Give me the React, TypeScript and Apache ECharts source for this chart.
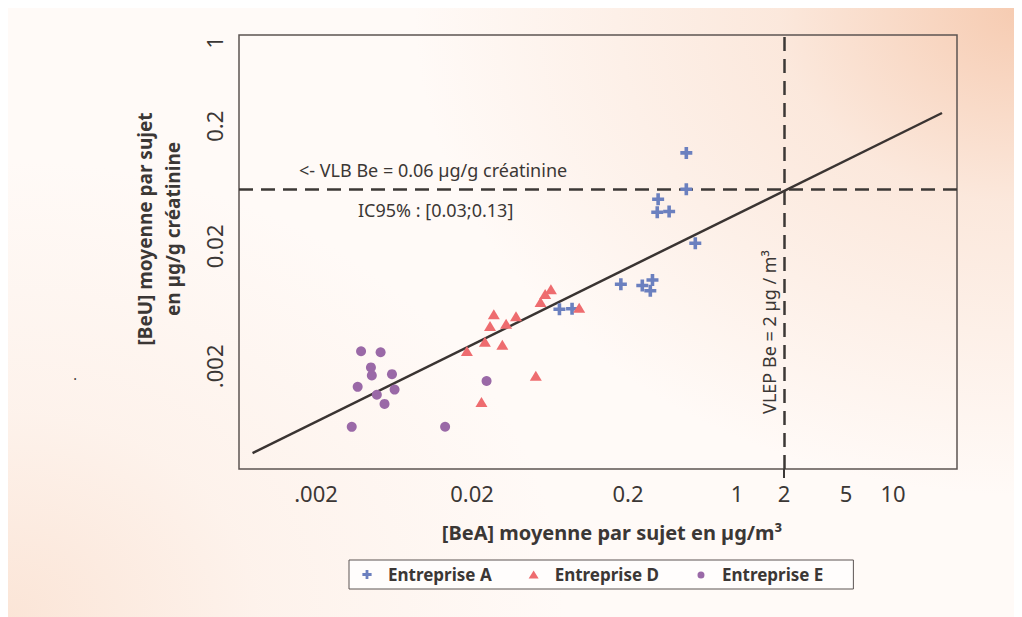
import React, { useEffect, useRef } from 'react';
import * as echarts from 'echarts';

// ---- Tick labels ----
const xTickValues = [0.002, 0.02, 0.2, 1, 2, 5, 10];
const xTickLabels = ['.002', '0.02', '0.2', '1', '2', '5', '10'];
const yTickValues = [0.002, 0.02, 0.2, 1];
const yTickLabels = ['.002', '0.02', '0.2', '1'];

// ---- Series ----
const seriesNames = ['Entreprise A', 'Entreprise D', 'Entreprise E'];

// Entreprise A : [BeA] µg/m³ and [BeU] µg/g créatinine
const aBeA = [0.473, 0.473, 0.312, 0.308, 0.367, 0.54, 0.18, 0.247, 0.287, 0.278, 0.0727, 0.0876];
const aBeU = [0.12, 0.0597, 0.0493, 0.0384, 0.039, 0.0212, 0.00966, 0.00942, 0.01047, 0.00852, 0.00597, 0.00604];

// Entreprise D
const dBeA = [0.0641, 0.0589, 0.055, 0.0973, 0.0276, 0.0383, 0.0261, 0.0331, 0.0242, 0.0313, 0.01855, 0.0513, 0.023];
const dBeU = [0.00876, 0.008, 0.00686, 0.00615, 0.00542, 0.00522, 0.00433, 0.00453, 0.0032, 0.00303, 0.00268, 0.00167, 0.00101];

// Entreprise E
const eBeA = [0.00389, 0.00519, 0.0045, 0.00456, 0.00614, 0.0037, 0.00638, 0.00491, 0.0055, 0.0248, 0.00339, 0.01345];
const eBeU = [0.00267, 0.00262, 0.00196, 0.00168, 0.00172, 0.00135, 0.00128, 0.00116, 0.000973, 0.00151, 0.000626, 0.000627];

// Regression line end points
const fitBeA = [0.000784, 20.6];
const fitBeU = [0.000379, 0.258];

// Limit values
const vlbBeU = 0.06;
const vlepBeA = 2;

const FONT = '"Noto Sans", "Open Sans", sans-serif';
const TEXT = '#3b3735';
const BLUE = '#6b80bf';
const RED = '#ee6c6f';
const PURPLE = '#9a69a7';

const crossSymbol = 'path://M3.5,0H6.5V3.5H10V6.5H6.5V10H3.5V6.5H0V3.5H3.5Z';
const legendCross = 'path://M0,0M12,12M4.6,1.4H7.4V4.6H10.6V7.4H7.4V10.6H4.6V7.4H1.4V4.6H4.6Z';
const legendTri = 'path://M0,0M12,12M6,2L11,10H1Z';
const legendCircle = 'path://M0,0M12,12M2.5,6.5a3.5,3.5 0 1,0 7,0a3.5,3.5 0 1,0 -7,0Z';

function zip(xs: number[], ys: number[]) {
  return xs.map((x, i) => [x, ys[i]]);
}

function fmt(values: number[], labels: string[]) {
  return (v: number) => {
    const i = values.findIndex((t) => Math.abs(t - v) / t < 1e-6);
    return i >= 0 ? labels[i] : '';
  };
}

export default function App() {
  const ref = useRef<HTMLDivElement>(null);

  useEffect(() => {
    document.body.style.overflow = 'hidden';
    document.documentElement.style.overflow = 'hidden';
    if (!ref.current) return;
    const chart = echarts.init(ref.current, undefined, { renderer: 'svg' });

    const option: any = {
      animation: false,
      backgroundColor: 'transparent',
      textStyle: { fontFamily: FONT },
      grid: {
        left: 231,
        top: 27,
        width: 718,
        height: 434,
        show: true,
        borderColor: '#5c5452',
        borderWidth: 1.5,
        backgroundColor: 'transparent',
        outerBoundsMode: 'none',
      },
      xAxis: {
        type: 'log',
        logBase: 10,
        min: 0.000642,
        max: 25.7,
        axisLine: { show: false },
        splitLine: { show: false },
        minorTick: { show: false },
        axisTick: {
          show: true,
          customValues: [vlepBeA],
          length: 9,
          lineStyle: { color: '#3c3836', width: 2 },
        },
        axisLabel: {
          customValues: xTickValues,
          formatter: fmt(xTickValues, xTickLabels),
          fontFamily: FONT,
          fontSize: 22,
          color: TEXT,
          margin: 13,
        },
      },
      yAxis: {
        type: 'log',
        logBase: 10,
        min: 0.000279,
        max: 1.152,
        axisLine: { show: false },
        splitLine: { show: false },
        axisTick: { show: false },
        minorTick: { show: false },
        axisLabel: {
          customValues: yTickValues,
          formatter: fmt(yTickValues, yTickLabels),
          fontFamily: FONT,
          fontSize: 22,
          color: TEXT,
          rotate: 90,
          margin: 14,
        },
      },
      legend: {
        left: 341,
        top: 552,
        orient: 'horizontal',
        itemWidth: 12,
        itemHeight: 12,
        itemGap: 36,
        padding: [6, 30, 6, 12],
        borderColor: '#5c5452',
        borderWidth: 1,
        backgroundColor: '#fffdfc',
        textStyle: {
          fontFamily: FONT,
          fontWeight: 'bold',
          fontSize: 17,
          color: TEXT,
          padding: [0, 0, 0, 10],
        },
        data: [
          { name: seriesNames[0], icon: legendCross },
          { name: seriesNames[1], icon: legendTri },
          { name: seriesNames[2], icon: legendCircle },
        ],
      },
      series: [
        {
          name: 'fit',
          type: 'line',
          data: zip(fitBeA, fitBeU),
          symbol: 'none',
          lineStyle: { color: '#3a3432', width: 2.5 },
          z: 3,
          markLine: {
            silent: true,
            symbol: 'none',
            label: { show: false },
            lineStyle: { color: '#3c3836', width: 2.5, type: [14, 8] },
            data: [{ yAxis: vlbBeU }, { xAxis: vlepBeA }],
          },
        },
        {
          name: seriesNames[0],
          type: 'scatter',
          data: zip(aBeA, aBeU),
          symbol: crossSymbol,
          symbolSize: 12,
          itemStyle: { color: BLUE, opacity: 1 },
          z: 5,
        },
        {
          name: seriesNames[1],
          type: 'scatter',
          data: zip(dBeA, dBeU),
          symbol: 'triangle',
          symbolSize: [12, 10],
          itemStyle: { color: RED, opacity: 1 },
          z: 5,
        },
        {
          name: seriesNames[2],
          type: 'scatter',
          data: zip(eBeA, eBeU),
          symbol: 'circle',
          symbolSize: 10,
          itemStyle: { color: PURPLE, opacity: 1 },
          z: 5,
        },
      ],
      graphic: [
        {
          type: 'text',
          x: 291,
          y: 162,
          style: {
            text: '<- VLB Be = 0.06 µg/g créatinine',
            fontFamily: FONT,
            fontSize: 18,
            fill: TEXT,
            verticalAlign: 'middle',
          },
        },
        {
          type: 'text',
          x: 350,
          y: 202,
          style: {
            text: 'IC95% : [0.03;0.13]',
            fontFamily: FONT,
            fontSize: 18,
            fill: TEXT,
            verticalAlign: 'middle',
          },
        },
        {
          type: 'text',
          x: 761,
          y: 324,
          rotation: Math.PI / 2,
          style: {
            text: 'VLEP Be = 2 µg / m³',
            fontFamily: FONT,
            fontSize: 18,
            fill: TEXT,
            align: 'center',
            verticalAlign: 'middle',
          },
        },
        {
          type: 'text',
          x: 151,
          y: 221,
          rotation: Math.PI / 2,
          style: {
            text: '[BeU] moyenne par sujet\nen µg/g créatinine',
            fontFamily: FONT,
            fontSize: 19,
            fontWeight: 'bold',
            lineHeight: 28,
            fill: TEXT,
            align: 'center',
            verticalAlign: 'middle',
          },
        },
        {
          type: 'text',
          x: 604,
          y: 524,
          style: {
            text: '[BeA] moyenne par sujet en µg/m³',
            fontFamily: FONT,
            fontSize: 20,
            fontWeight: 'bold',
            fill: TEXT,
            align: 'center',
            verticalAlign: 'middle',
          },
        },
        {
          type: 'text',
          x: 67,
          y: 366,
          style: {
            text: '.',
            fontFamily: FONT,
            fontSize: 14,
            fill: TEXT,
            align: 'center',
            verticalAlign: 'middle',
          },
        },
      ],
    };

    chart.setOption(option);
    return () => chart.dispose();
  }, []);

  return (
    <div
      ref={ref}
      style={{
        width: 1014,
        height: 609,
        background:
          'radial-gradient(ellipse 60% 80% at 100% 0%, #f6cbb1 0%, rgba(249,220,202,0.6) 40%, rgba(255,250,246,0) 100%), radial-gradient(ellipse 55% 75% at 0% 100%, #fbe5d7 0%, rgba(252,236,226,0.55) 45%, rgba(255,250,246,0) 100%), #fffaf7',
      }}
    />
  );
}
